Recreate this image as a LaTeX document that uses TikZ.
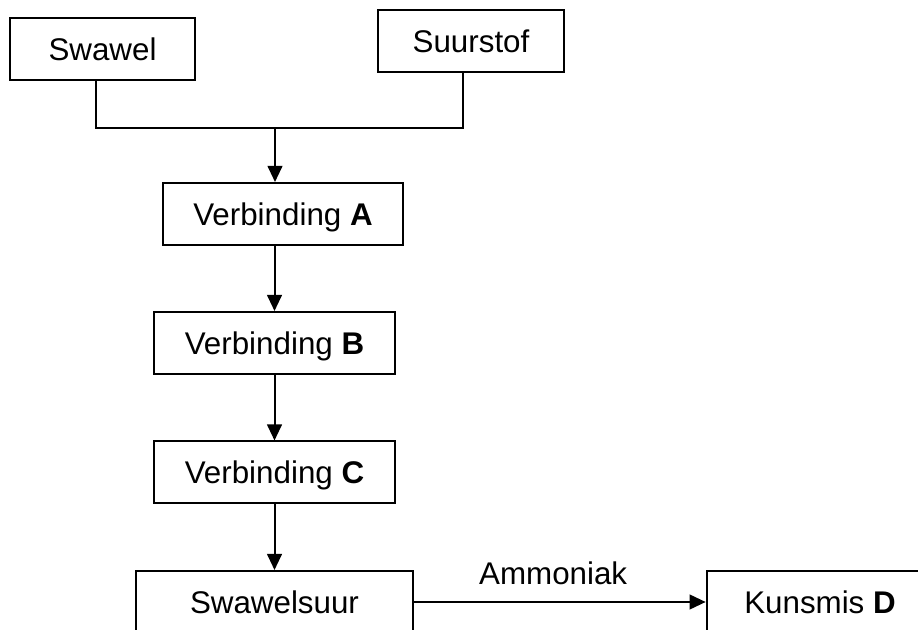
\documentclass[tikz,border=0pt]{standalone}
\usepackage{fontspec}
\setmainfont{Liberation Sans}
\usetikzlibrary{arrows.meta}

\tikzset{
  stof/.style={draw, line width=1.5pt, fill=white, minimum height=46.5pt,
    text depth=0pt, font=\fontsize{23.5}{28}\selectfont},
  pyl/.style={line width=1.5pt, -{Triangle[length=12pt,width=11pt]}},
}

\begin{document}
\begin{tikzpicture}[x=0.75pt,y=-0.75pt]
  \useasboundingbox (0,0) rectangle (918,630);
  \clip (0,0) rectangle (918,630);

  % beginstowwe
  \node [stof, minimum width=138.75pt](swawel) at (102.5,49) {Swawel};
  \node [stof, minimum width=139.5pt](suurstof) at (471,41.5) {Suurstof};

  % verbindings
  \node [stof, minimum width=180pt](verbA) at (283,214) {Verbinding \textbf{A}};
  \node [stof, minimum width=180.75pt](verbB) at (274.5,343) {Verbinding \textbf{B}};
  \node [stof, minimum width=180.75pt](verbC) at (274.5,472.5) {Verbinding \textbf{C}};

  % eindprodukte (onderkant afgesny)
  \node [stof, minimum width=207.75pt](suur) at (274.5,602) {Swawelsuur};
  \node [stof, minimum width=170pt](kunsmis) at (820,602) {Kunsmis \textbf{D}};

  \coordinate (join) at (275,128);

  \draw [line width=1.5pt] ([xshift=-4.9pt]swawel.south) |- (join)
    -| ([xshift=-6pt]suurstof.south);
  \draw [pyl] (join) -- (join |- verbA.north);
  \draw [pyl] (verbB.north |- verbA.south) -- (verbB);
  \draw [pyl] (verbB) -- (verbC);
  \draw [pyl] (verbC) -- (suur);
  \draw [pyl] (suur) -- node[above=9pt, xshift=-5pt, font=\fontsize{23.5}{28}\selectfont] {Ammoniak} (kunsmis);
\end{tikzpicture}
\end{document}
